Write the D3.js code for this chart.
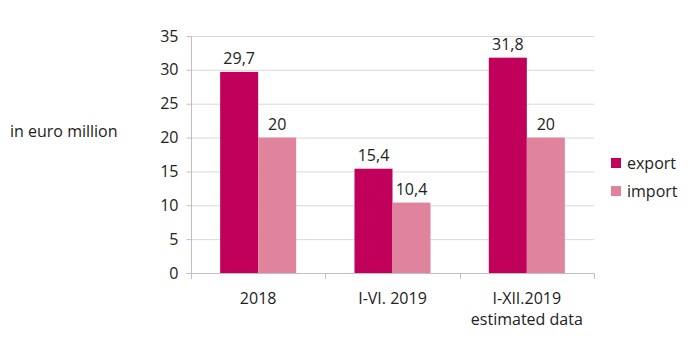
<!DOCTYPE html>
<html><head><meta charset="utf-8">
<script src="https://cdn.jsdelivr.net/npm/d3@7/dist/d3.min.js"></script>
<style>
body{margin:0;background:#fff;}
text{font-family:"Open Sans","Noto Sans",sans-serif;fill:#222;}
</style></head>
<body><svg id="c" width="694" height="343"></svg>
<script>
const categories = [["2018"], ["I-VI. 2019"], ["I-XII.2019", "estimated data"]];
const seriesNames = ["export", "import"];
const exportVals = [29.7, 15.4, 31.8];
const importVals = [20, 10.4, 20];
const valueLabels = [["29,7","15,4","31,8"],["20","10,4","20"]];
const yTicks = [0,5,10,15,20,25,30,35];
const colors = ["#C0005A", "#E0849E"];

const svg = d3.select("#c");
const x0 = 191, x1 = 594, yb = 273, yt = 36;
const x = d3.scaleBand().domain(d3.range(categories.length)).range([x0, x1]).paddingInner(0).paddingOuter(0);
const y = d3.scaleLinear().domain([0, 35]).range([yb, yt]);
const groupW = x.bandwidth() * 0.566;
const xs = d3.scaleBand().domain(d3.range(2)).range([0, groupW]);

// gridlines
svg.append("g").selectAll("line").data(yTicks.filter(d=>d>0)).join("line")
  .attr("x1", x0).attr("x2", x1).attr("y1", d=>y(d)+0.5).attr("y2", d=>y(d)+0.5)
  .attr("stroke", "#D9D9D9").attr("stroke-width", 1);

// y axis
const ya = svg.append("g").attr("transform", `translate(${x0+0.5},0)`)
  .call(d3.axisLeft(y).tickValues(yTicks).tickSize(5).tickPadding(8).tickFormat(d3.format("d")));
ya.select(".domain").attr("stroke", "#BFBFBF").attr("d", `M0,${yb+0.5}V${yt}`);
ya.selectAll(".tick line").attr("stroke", "#BFBFBF");
ya.selectAll(".tick text").style("font-size", "16px").attr("fill", "#222");

// bars
const series = [exportVals, importVals];
series.forEach((vals, si) => {
  svg.append("g").selectAll("rect").data(vals).join("rect")
    .attr("x", (d,i) => x(i) + (x.bandwidth()-groupW)/2 + xs(si))
    .attr("width", xs.bandwidth())
    .attr("y", d => y(d))
    .attr("height", d => y(0) - y(d))
    .attr("fill", colors[si]);
  svg.append("g").selectAll("text").data(vals).join("text")
    .attr("x", (d,i) => x(i) + (x.bandwidth()-groupW)/2 + xs(si) + xs.bandwidth()/2)
    .attr("y", d => y(d) - 8)
    .attr("text-anchor", "middle")
    .style("font-size", "16px")
    .text((d,i) => valueLabels[si][i]);
});

// x axis
svg.append("line").attr("x1", x0).attr("x2", x1).attr("y1", yb+0.5).attr("y2", yb+0.5).attr("stroke", "#BFBFBF");
const xt = d3.range(categories.length+1).map(i => x0 + i*x.bandwidth());
svg.append("g").selectAll("line").data(xt).join("line")
  .attr("x1", d=>Math.round(d)+0.5).attr("x2", d=>Math.round(d)+0.5).attr("y1", yb).attr("y2", yb+6)
  .attr("stroke", "#BFBFBF");
categories.forEach((lines, i) => {
  lines.forEach((l, j) => {
    svg.append("text").attr("x", x(i) + x.bandwidth()/2).attr("y", 304 + j*21)
      .attr("text-anchor", "middle").style("font-size", "16px").text(l);
  });
});

// y title
svg.append("text").attr("x", 10).attr("y", 137).style("font-size", "16px").text("in euro million");

// legend
seriesNames.forEach((n, i) => {
  const ly = 163 + i*28;
  svg.append("rect").attr("x", 611).attr("y", ly-5).attr("width", 10).attr("height", 10).attr("fill", colors[i]);
  svg.append("text").attr("x", 627).attr("y", ly+6).style("font-size", "16px").text(n);
});
</script></body></html>
